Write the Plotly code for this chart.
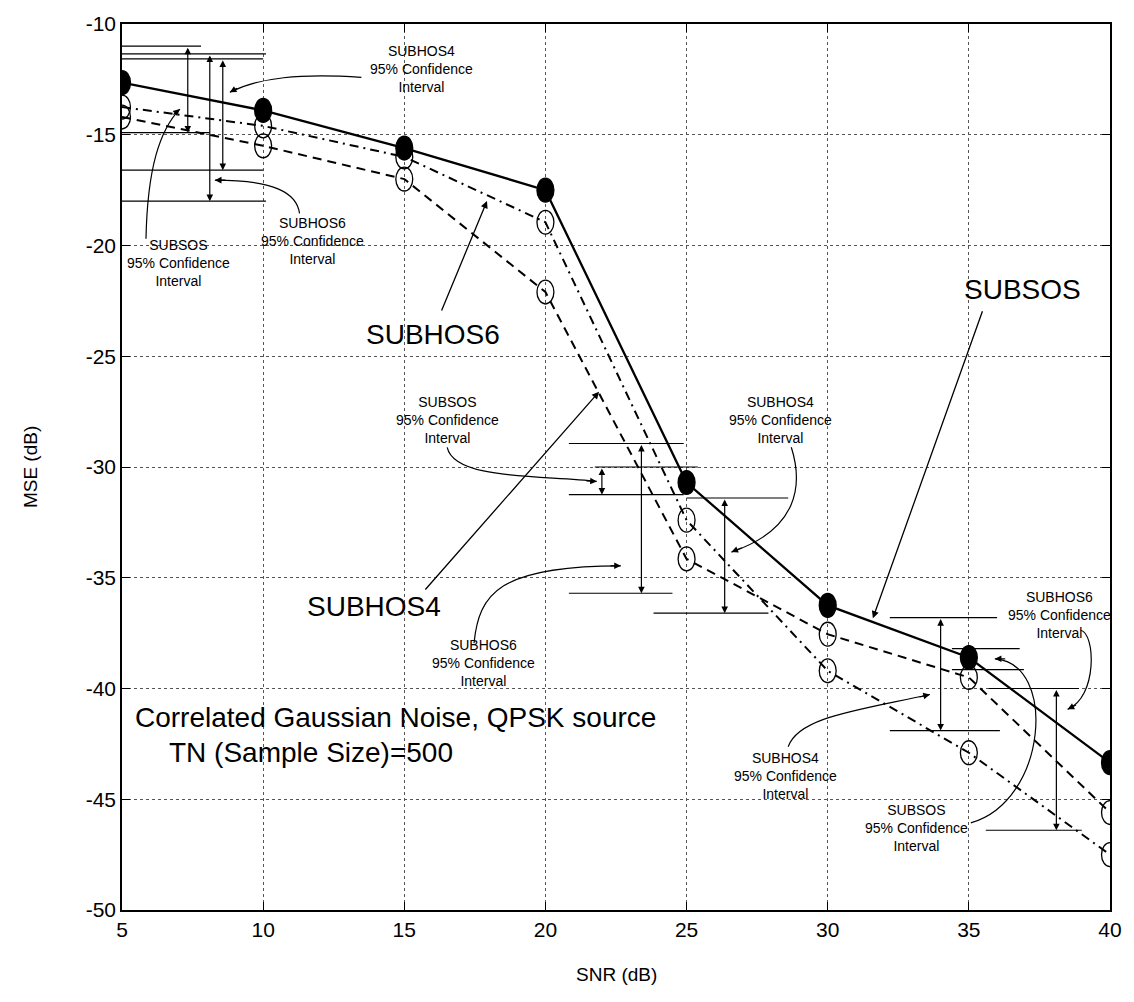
import plotly.graph_objects as go

# SNR grid and mean-square-error curves (dB)
snr = [5, 10, 15, 20, 25, 30, 35, 40]
mse_subsos = [-12.65, -13.9, -15.6, -17.5, -30.7, -36.25, -38.6, -43.35]
mse_subhos4 = [-14.2, -15.5, -17.0, -22.1, -34.15, -37.55, -39.5, -45.6]
mse_subhos6 = [-13.75, -14.6, -16.0, -18.95, -32.4, -39.2, -42.9, -47.5]

# 95% confidence intervals (upper / lower bound, dB)
ci_name = ["SUBSOS", "SUBHOS6", "SUBHOS4", "SUBSOS", "SUBHOS6", "SUBHOS4",
           "SUBHOS4", "SUBSOS", "SUBHOS6"]
ci_upper = [-11.0, -11.35, -11.57, -30.0, -28.94, -31.4, -36.8, -38.2, -40.0]
ci_lower = [-14.9, -18.0, -16.6, -31.25, -35.7, -36.6, -41.9, -39.15, -46.4]

x_ticks = [5, 10, 15, 20, 25, 30, 35, 40]
y_ticks = [-10, -15, -20, -25, -30, -35, -40, -45, -50]

FONT = "Liberation Sans, Arial, sans-serif"
NARROW = "Liberation Sans Narrow, Arial Narrow, Liberation Sans, sans-serif"

fig = go.Figure()

fig.add_trace(go.Scatter(x=snr, y=mse_subsos, mode="lines", name="SUBSOS",
                         line=dict(color="black", width=2.3)))
fig.add_trace(go.Scatter(x=snr, y=mse_subhos4, mode="lines", name="SUBHOS4",
                         line=dict(color="black", width=2.0, dash="9px,6px")))
fig.add_trace(go.Scatter(x=snr, y=mse_subhos6, mode="lines", name="SUBHOS6",
                         line=dict(color="black", width=2.0, dash="9px,5px,2px,5px")))

shapes = []

# elliptical point markers drawn in data space
HALF_W, HALF_H = 0.30, 0.54
for ys, filled in ((mse_subhos4, False), (mse_subhos6, False), (mse_subsos, True)):
    for xv, yv in zip(snr, ys):
        shapes.append(dict(type="circle", xref="x", yref="y", layer="above",
                           x0=xv - HALF_W, x1=xv + HALF_W, y0=yv - HALF_H, y1=yv + HALF_H,
                           fillcolor="black" if filled else "rgba(0,0,0,0)",
                           line=dict(color="black", width=1.3)))

# placement of each interval: arrow x, span of upper bound line, span of lower bound line
ci_arrow_x = [7.33, 8.11, 8.57, 22.0, 23.4, 26.35, 34.0, 35.0, 38.1]
ci_upper_span = [(5, 7.8), (5, 10.1), (5, 10.0), (21.75, 25.4), (20.83, 24.9),
                 (25.0, 28.6), (32.2, 36.0), (34.4, 36.8), (35.7, 38.9)]
ci_lower_span = [(5, 8.1), (5, 10.1), (5, 10.0), (20.83, 24.9), (20.83, 24.5),
                 (23.83, 27.9), (32.2, 36.1), (34.4, 36.95), (35.6, 39.0)]

annotations = []
for i in range(len(ci_name)):
    for yv, (a, b) in ((ci_upper[i], ci_upper_span[i]), (ci_lower[i], ci_lower_span[i])):
        shapes.append(dict(type="line", xref="x", yref="y", x0=a, x1=b, y0=yv, y1=yv,
                           line=dict(color="black", width=1.2)))
    annotations.append(dict(x=ci_arrow_x[i], y=ci_lower[i], ax=ci_arrow_x[i], ay=ci_upper[i],
                            xref="x", yref="y", axref="x", ayref="y", text="",
                            showarrow=True, arrowhead=2, arrowside="end+start",
                            arrowsize=1.1, arrowwidth=1.2, arrowcolor="black"))


def curve(p0, c1, c2, p1, tail):
    """Curved leader from a label to a confidence-interval arrow."""
    shapes.append(dict(type="path", xref="x", yref="y",
                       path=f"M {p0[0]},{p0[1]} C {c1[0]},{c1[1]} {c2[0]},{c2[1]} {p1[0]},{p1[1]}",
                       line=dict(color="black", width=1.2)))
    annotations.append(dict(x=p1[0], y=p1[1], ax=tail[0], ay=tail[1], xref="x", yref="y",
                            axref="x", ayref="y", text="", showarrow=True, arrowhead=2,
                            arrowsize=1.1, arrowwidth=1.2, arrowcolor="black"))


def ci_label(x, y, name):
    annotations.append(dict(x=x, y=y, xref="x", yref="y", showarrow=False,
                            text=f"{name}<br>95% Confidence<br>Interval",
                            font=dict(family=FONT, size=14, color="black"),
                            xanchor="center", yanchor="middle"))


def big_label(x, y, text, tip=None, tail=None):
    annotations.append(dict(x=x, y=y, xref="x", yref="y", showarrow=False, text=text,
                            font=dict(family=FONT, size=28, color="black"),
                            xanchor="center", yanchor="middle"))
    if tip is not None:
        annotations.append(dict(x=tip[0], y=tip[1], ax=tail[0], ay=tail[1], xref="x",
                                yref="y", axref="x", ayref="y", text="", showarrow=True,
                                arrowhead=2, arrowsize=1.1, arrowwidth=1.3,
                                arrowcolor="black"))


# labels and leaders, upper-left group
ci_label(15.6, -12.05, "SUBHOS4")
curve((13.48, -12.41), (11.29, -12.23), (9.88, -12.41), (8.82, -13.08), (9.13, -12.86))
ci_label(11.75, -19.8, "SUBHOS6")
curve((11.29, -18.55), (11.19, -17.63), (10.41, -17.05), (8.29, -17.05), (8.71, -17.05))
ci_label(7.0, -20.8, "SUBSOS")
curve((5.85, -19.7), (5.9, -16.5), (6.34, -14.78), (7.05, -13.84), (6.77, -14.15))

# middle group
ci_label(16.52, -27.9, "SUBSOS")
curve((16.52, -29.11), (16.77, -30.58), (19.77, -30.36), (21.82, -30.65), (21.4, -30.62))
ci_label(28.32, -27.9, "SUBHOS4")
curve((28.71, -29.11), (29.13, -30.8), (28.96, -32.81), (26.59, -33.84), (27.01, -33.62))
ci_label(17.79, -38.85, "SUBHOS6")
curve((17.47, -37.95), (17.65, -35.71), (18.36, -34.46), (22.67, -34.46), (22.25, -34.46))

# right group
ci_label(38.22, -36.7, "SUBHOS6")
curve((38.96, -37.37), (39.49, -37.5), (39.56, -40.4), (38.5, -40.94), (38.85, -40.71))
ci_label(28.5, -43.93, "SUBHOS4")
curve((28.6, -42.63), (28.96, -41.29), (31.08, -40.98), (33.62, -40.27), (33.2, -40.4))
ci_label(33.13, -46.29, "SUBSOS")
curve((35.07, -46.07), (37.79, -45.09), (38.14, -38.84), (35.92, -38.66), (36.34, -38.66))

# series names
big_label(16.0, -24.0, "SUBHOS6", tip=(17.93, -17.99), tail=(16.3, -23.0))
big_label(13.94, -36.3, "SUBHOS4", tip=(21.9, -26.6), tail=(15.7, -35.6))
big_label(36.9, -22.0, "SUBSOS", tip=(31.6, -36.83), tail=(35.5, -22.9))

annotations.append(dict(x=5.4, y=-41.3, xref="x", yref="y", showarrow=False,
                        text="Correlated Gaussian Noise, QPSK source",
                        font=dict(family=FONT, size=28, color="black"),
                        xanchor="left", yanchor="middle"))
annotations.append(dict(x=6.6, y=-42.9, xref="x", yref="y", showarrow=False,
                        text="TN (Sample Size)=500",
                        font=dict(family=FONT, size=28, color="black"),
                        xanchor="left", yanchor="middle"))

# axis titles
annotations.append(dict(x=0.5, y=-0.073, xref="paper", yref="paper", showarrow=False,
                        text="SNR (dB)", font=dict(family=NARROW, size=19, color="black"),
                        xanchor="center", yanchor="middle"))
annotations.append(dict(x=-0.093, y=0.5, xref="paper", yref="paper", showarrow=False,
                        text="MSE (dB)", textangle=-90,
                        font=dict(family=NARROW, size=19, color="black"),
                        xanchor="center", yanchor="middle"))

axis_common = dict(showgrid=True, gridcolor="#555555", griddash="dot", gridwidth=1,
                   showline=True, linecolor="black", linewidth=1.5, mirror="ticks",
                   ticks="inside", ticklen=8, tickcolor="black", zeroline=False)

fig.update_layout(
    width=1134, height=1002,
    margin=dict(l=122, r=21, t=14, b=92),
    paper_bgcolor="white", plot_bgcolor="white",
    showlegend=False,
    xaxis=dict(range=[5, 40], tickvals=x_ticks, ticktext=[str(v) for v in x_ticks],
               tickfont=dict(family=NARROW, size=21, color="black"), **axis_common),
    yaxis=dict(range=[-50, -10], tickvals=y_ticks, ticktext=[str(v) for v in y_ticks],
               tickfont=dict(family=FONT, size=21, color="black"), **axis_common),
    shapes=shapes,
    annotations=annotations,
)

fig.write_html("out.html")
